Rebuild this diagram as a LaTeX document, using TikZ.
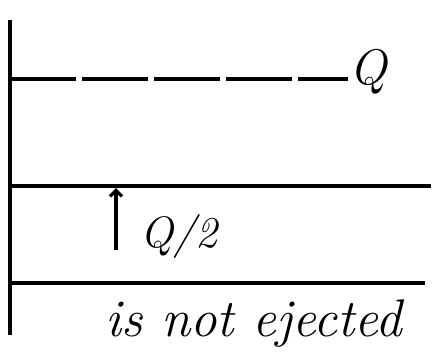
\documentclass[tikz,border=0pt]{standalone}
\usepackage{tikz}
\usetikzlibrary{arrows.meta}
\usepackage{amsmath,amssymb}
\usepackage{xcolor}
\definecolor{InkLine}{HTML}{000000}

\begin{document}
\begin{tikzpicture}[
	x=1pt, y=1pt, % one unit is one pixel of the sketch
	% Style for the plain level lines
	level/.style={
		draw=InkLine, 
		line width=3.2pt
	},
	% Style for the dashed level line
	level dashed/.style={
		draw=InkLine, 
		line width=3.2pt, 
		dash pattern=on 66pt off 6pt
	},
	% Style for the upward arrow
	shift arrow/.style={
		draw=InkLine, 
		line width=3.2pt, 
		-{Straight Barb[length=6pt,width=12pt]}
	},
	% Style for the handwritten labels
	hand label/.style={
		text=InkLine, 
		inner sep=0pt, 
		font=\fontsize{53}{62}\selectfont\itshape
	}
	]
	\useasboundingbox (0,0) rectangle (438,360);
	
	% ================= POINTS =================
	\coordinate (AxisTop)    at ( 10, 340);
	\coordinate (AxisBottom) at ( 10,  25);
	\coordinate (TopLeft)    at ( 10, 281);
	\coordinate (TopRight)   at (348, 281);
	\coordinate (MidLeft)    at ( 12, 174);
	\coordinate (MidRight)   at (431, 174);
	\coordinate (LowLeft)    at ( 10,  77);
	\coordinate (LowRight)   at (425,  77);
	\coordinate (ArrowFoot)  at (116, 110);
	\coordinate (ArrowHead)  at (116, 172);
	
	% ================= LABELS =================
	\node[hand label, anchor=west, font=\fontsize{50}{60}\selectfont\itshape] (Charge) at (349, 288) {Q};
	\node[hand label, anchor=west, font=\fontsize{44}{52}\selectfont\itshape] (HalfCharge) at (140, 124) {Q/2};
	\node[hand label] (Note) at (254,  36) {is not ejected};
	
	% ================= LINES =================
	\draw[level] (AxisTop) -- (AxisBottom);
	\draw[level dashed] (TopLeft) -- (TopRight);
	\draw[level] (MidLeft) -- (MidRight);
	\draw[level] (LowLeft) -- (LowRight);
	\draw[shift arrow] (ArrowFoot) -- (ArrowHead);
	
\end{tikzpicture}
\end{document}
